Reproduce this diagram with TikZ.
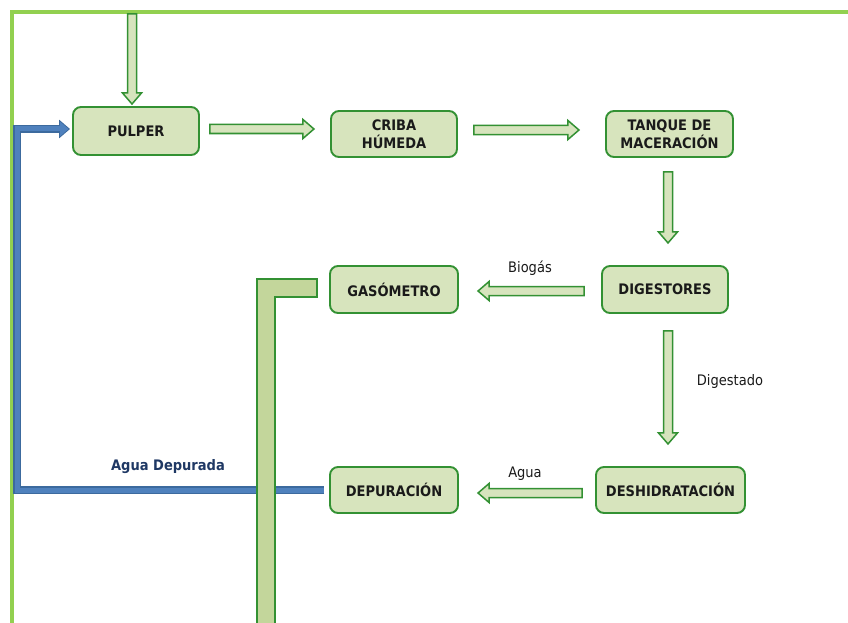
\documentclass[tikz,border=0pt]{standalone}
\usepackage{fontspec}
\setmainfont{DejaVu Sans Condensed}
\usetikzlibrary{arrows.meta,calc}
\definecolor{boxfill}{HTML}{D7E4BD}
\definecolor{boxline}{HTML}{339133}
\definecolor{pipefill}{HTML}{C3D69B}
\definecolor{framegreen}{HTML}{92D050}
\definecolor{pipeblue}{HTML}{4F81BD}
\definecolor{pipeedge}{HTML}{3C6A9E}
\definecolor{labelnavy}{HTML}{1F3864}
\definecolor{ink}{HTML}{1A1A1A}

\tikzset{
  proc/.style={draw=boxline, fill=boxfill, line width=1.9pt, rounded corners=8pt,
    align=center, text=ink, font=\fontsize{14.5}{17.5}\selectfont\bfseries,
    inner sep=0pt},
  blockarrow/.style={draw=boxline, fill=boxfill, line width=1.5pt, line join=miter},
  flowlabel/.style={text=ink, font=\fontsize{14.5}{17}\selectfont},
}

% hollow block arrow: start point, length, direction angle
\newcommand\flowarrow[3]{%
  \begin{scope}[shift={(#1)}, rotate=#3]
    \draw[blockarrow] (0,-4.5) -- (#2-11,-4.5) -- (#2-11,-9.5) -- (#2,0)
      -- (#2-11,9.5) -- (#2-11,4.5) -- (0,4.5) -- cycle;
  \end{scope}}

\begin{document}
\begin{tikzpicture}[x=1pt, y=-1pt]
  \useasboundingbox (0,0) rectangle (848,623);
  \begin{scope}
    \clip (0,0) rectangle (848,623);

    % outer frame
    \draw[framegreen, line width=4pt] (12,640) -- (12,12.5) -- (860,12.5);

    % process boxes
    \node[proc, minimum width=126pt, minimum height=48pt] (pulper) at (136,131) {PULPER};
    \node[proc, minimum width=126pt, minimum height=46pt] (criba) at (394,134) {CRIBA\\HÚMEDA};
    \node[proc, minimum width=127pt, minimum height=46pt] (tanque) at (669.5,134) {TANQUE DE\\MACERACIÓN};
    \node[proc, minimum width=128pt, minimum height=47pt] (gaso) at (394,289.5) {GASÓMETRO};
    \node[proc, minimum width=126pt, minimum height=47pt] (dig) at (665,289.5) {DIGESTORES};
    \node[proc, minimum width=149pt, minimum height=46pt] (desh) at (670.5,490) {DESHIDRATACIÓN};
    \node[proc, minimum width=128pt, minimum height=46pt] (dep) at (394,490) {DEPURACIÓN};

    % feed entering at the top
    \coordinate (feed) at (132,14);
    \flowarrow{feed}{90}{-90}

    % main flow
    \flowarrow{$(pulper.east)+(10,-2)$}{104}{0}
    \flowarrow{$(criba.east)+(16,-4)$}{105}{0}
    \flowarrow{$(tanque.south)+(-1.5,14)$}{71}{-90}
    \flowarrow{$(dig.west)+(-17,1.5)$}{106}{180}
    \flowarrow{$(dig.south)+(3,17)$}{113}{-90}
    \flowarrow{$(desh.west)+(-13,3)$}{104}{180}

    % flow labels
    \node[flowlabel] (lbiogas) at (530,268) {Biogás};
    \node[flowlabel] (ldigest) at (730,381) {Digestado};
    \node[flowlabel] (lagua) at (525,474) {Agua};
    \node[text=labelnavy, font=\fontsize{14.5}{17}\selectfont\bfseries] (lagdep) at (168,467) {Agua Depurada};

    % purified water back to the pulper
    \coordinate (wcorner1) at (17,490);
    \coordinate (wcorner2) at (17,129);
    \draw[pipeedge, line width=7.5pt, line join=miter, -{Triangle[width=18pt,length=11pt]}]
      ($(dep.west)+(-5,0)$) -- (wcorner1) -- (wcorner2) -- ($(pulper.west)+(-2,-2)$);
    \draw[pipeblue, line width=5pt, line join=miter, -{Triangle[width=14pt,length=8.5pt]}]
      ($(dep.west)+(-5.5,0)$) -- (wcorner1) -- (wcorner2) -- ($(pulper.west)+(-3.5,-2)$);

    % gas line leaving the gasometer
    \draw[blockarrow, fill=pipefill] ($(gaso.west)+(-12,-10.5)$) -- (257,279) -- (257,640)
      -- (275,640) -- (275,297) -- ($(gaso.west)+(-12,7.5)$) -- cycle;
  \end{scope}
\end{tikzpicture}
\end{document}
